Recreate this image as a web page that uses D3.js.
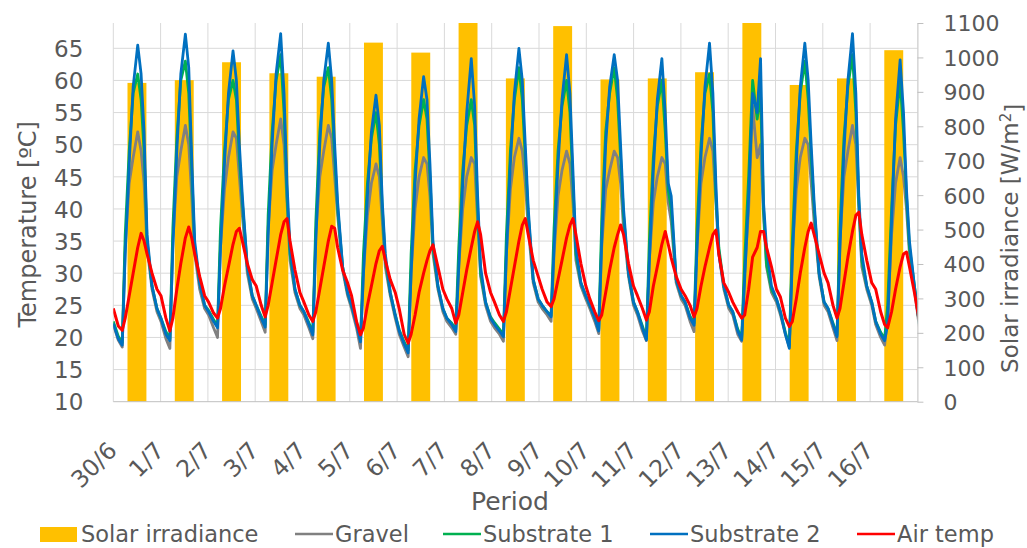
<!DOCTYPE html>
<html>
<head>
<meta charset="utf-8">
<script src="https://cdn.jsdelivr.net/npm/d3@7"></script>
<style>
  html, body { margin: 0; padding: 0; background: #fff; }
  svg text { font-family: "DejaVu Sans", Verdana, sans-serif; fill: #595959; }
</style>
</head>
<body>
<div id="chart"></div>
<script>
// categories (one per day) and daily solar irradiance bars [W/m2]
const dates = ["30/6", "1/7", "2/7", "3/7", "4/7", "5/7", "6/7", "7/7", "8/7",
    "9/7", "10/7", "11/7", "12/7", "13/7", "14/7", "15/7", "16/7"];
const solarIrradiance = [926, 934, 986, 954, 944, 1043, 1014, 1100, 939,
    1091, 936, 939, 957, 1100, 920, 939, 1021];

// hour of day for each reading in the rows below
const sampleHours = [0, 2.5, 4.5, 6, 8, 10, 12.3, 14, 15.5, 17, 19.5, 22];

// temperatures [ºC], one row per day
const gravel = [
    [22, 19.6, 18.5, 34, 44, 48, 52, 49, 44, 34, 27.5, 24],
    [22.5, 19.8, 18.3, 35, 45, 49, 53, 50, 42, 33, 27.5, 24.5],
    [23.5, 21.5, 20, 34, 43, 48, 52, 51, 45, 39, 30, 26],
    [24.5, 22.5, 20.8, 37, 46, 50, 54, 50, 41, 32, 27, 24.5],
    [23.5, 21.5, 19.8, 36, 45, 49, 53, 51, 45, 39, 30.5, 26.5],
    [24.5, 21.5, 18.3, 30, 39, 44, 47, 45, 38, 31, 26.5, 23],
    [20.5, 18.5, 17, 30, 40, 45, 48, 47, 42, 33, 27.5, 24],
    [22.5, 21.5, 20.5, 31, 40, 45, 48, 47, 38, 29.5, 25, 22.5],
    [21.5, 20.5, 19.4, 33, 43, 48, 51, 49, 44, 37, 28.5, 25.5],
    [24.5, 23.5, 22.5, 33, 42, 46, 49, 47, 41, 32, 28, 26],
    [24.5, 22.5, 20.6, 34, 43, 46, 49, 48, 44, 37, 29.5, 25],
    [23.5, 21, 19.5, 32, 41, 45, 48, 47, 41, 38, 28.5, 26],
    [25, 22.5, 20.9, 34, 44, 48, 51, 49, 41, 33, 27.5, 24.5],
    [23.5, 20.5, 19.4, 30, 40, 56, 48, 50, 39, 31, 27, 25.5],
    [23.5, 20.5, 18.5, 33, 43, 48, 51, 50, 44, 38, 29.5, 25],
    [24, 21.5, 19.5, 35, 45, 49, 53, 50, 40, 31, 27.5, 25],
    [22, 20, 18.8, 23, 36, 44, 48, 45, 40, 33, 27.5, 21.5]
];
const substrate1 = [
    [22.5, 20.2, 19.2, 36, 49, 58, 61, 57, 49, 35, 28, 24.5],
    [23, 20.9, 19.8, 37, 51, 60, 63, 58, 46, 34, 28.5, 25],
    [24.2, 22.8, 21.8, 37, 49, 57, 60, 57, 48, 41, 31, 26.5],
    [25, 23.3, 22, 39, 52, 60, 64, 55, 42, 33, 27.5, 25],
    [24, 22.3, 20.8, 38, 52, 59, 62, 57, 48, 40, 31, 27],
    [25, 22.3, 19.6, 33, 44, 51, 55, 50, 40, 32, 27, 23.5],
    [21.2, 19.3, 18, 33, 46, 53, 57, 54, 45, 34, 28, 24.5],
    [23, 22.2, 21.2, 34, 46, 53, 57, 53, 40, 30, 25.5, 23.2],
    [22.3, 21.3, 20.4, 36, 49, 57, 62, 57, 48, 39, 29, 26],
    [25, 24, 23.4, 37, 49, 56, 60, 55, 44, 33, 28.5, 26.5],
    [25, 23.2, 21.3, 38, 52, 58, 62, 57, 48, 39, 30, 25.5],
    [24, 21.8, 19.9, 35, 48, 56, 60, 52, 43, 40, 29, 26.5],
    [25.5, 23.3, 22.2, 37, 50, 58, 61, 55, 42, 34, 28, 25],
    [24, 21.3, 19.9, 32, 45, 60, 54, 58, 40, 31.5, 27.5, 26],
    [24, 20.8, 18.7, 35, 49, 58, 63, 57, 48, 40, 30, 25.5],
    [24.5, 22.2, 20.4, 37, 51, 59, 64, 55, 41, 32, 28, 25.5],
    [22.5, 20.8, 19.8, 25, 40, 53, 60, 52, 42, 34, 28, 22]
];
const substrate2 = [
    [22.2, 19.8, 18.8, 33, 47, 59, 65.5, 61, 52, 36, 28, 24.5],
    [23, 20.5, 19.5, 34, 49, 61, 67.2, 62, 48, 35, 28.5, 25],
    [24, 22.5, 21.5, 34, 47, 58, 64.6, 60, 50, 42, 31, 26.5],
    [25, 23, 21.6, 36, 50, 61, 67.3, 58, 44, 34, 27.5, 25],
    [24, 22, 20.4, 35, 50, 60, 65.8, 60, 50, 41, 31, 27],
    [25, 22, 19.3, 30, 42, 52, 57.7, 53, 41, 33, 27, 23.5],
    [21, 19, 17.6, 30, 44, 54, 60.6, 57, 47, 35, 28, 24.5],
    [23, 22, 20.9, 31, 44, 55, 63.4, 56, 42, 31, 25.5, 23],
    [22, 21, 20.1, 33, 47, 58, 65, 60, 50, 40, 29, 26],
    [25, 24, 23.2, 34, 47, 57, 64, 58, 46, 34, 28.5, 26.5],
    [25, 23, 21, 35, 50, 59, 64, 60, 50, 40, 30, 25.5],
    [24, 21.5, 19.6, 32, 46, 57, 63.4, 55, 44, 42, 29, 26.5],
    [25.5, 23, 21.9, 34, 48, 59, 65.8, 58, 44, 33, 28, 25],
    [24, 21, 19.6, 29, 42, 58, 55, 63.4, 41, 34, 28, 26],
    [24, 20.5, 18.3, 32, 47, 59, 65.8, 60, 50, 41, 30, 25.5],
    [24.5, 22, 20.1, 34, 49, 60, 67.3, 58, 42, 33, 28, 25.5],
    [22.5, 20.5, 19.5, 22, 38, 54, 63.2, 55, 43, 35, 28, 22]
];
const airTemp = [
    [24.5, 21.8, 21.1, 23, 26.5, 30, 34, 36.2, 35, 33, 30, 27.5],
    [26.5, 23, 21, 23, 27.5, 31.5, 35.5, 37.2, 35.5, 33, 29.5, 26.5],
    [25.5, 23.8, 23, 24.5, 28, 31, 34.5, 36.5, 37, 35, 31.5, 29],
    [28, 25, 23.2, 25, 28.5, 32, 36, 38, 38.5, 35, 30.5, 27],
    [25.5, 23.5, 22.5, 24, 27.5, 31, 35, 37.3, 37, 34, 30.5, 28.5],
    [26.5, 22.5, 20.4, 21.5, 25, 28, 31.5, 33.5, 34.2, 32, 29, 27],
    [24.5, 20.5, 19.1, 20.5, 23.5, 27, 30, 32, 33.5, 34.4, 31, 27.5],
    [26, 24.5, 22.2, 23.5, 27, 30.5, 34, 36.5, 38, 36, 30, 27],
    [25.5, 23.5, 22.5, 24, 27.5, 31, 35, 37.5, 38.5, 36, 32, 29.5],
    [27.5, 25.5, 24.8, 26, 29, 32, 35.5, 37.5, 38.5, 36, 31.5, 28],
    [26, 24, 22.6, 23.5, 27, 30.5, 34, 36, 37.5, 36, 31.5, 28],
    [26.5, 24.5, 22.7, 24, 28, 31, 34.5, 36.5, 34.5, 32.4, 29.5, 27.5],
    [26.5, 25, 23.2, 24.5, 28, 31, 34, 36, 36.7, 33, 28.5, 27],
    [25.5, 24, 23, 23.5, 27.5, 32.5, 34, 36.5, 36.5, 34, 31, 27.5],
    [26.3, 23, 21.7, 22.5, 26, 30, 34, 36.5, 37.8, 36, 33, 30],
    [28.5, 25, 23, 24.5, 28.5, 32.5, 36.5, 39, 39.5, 36, 32, 28.5],
    [27.5, 24, 22, 21.5, 24, 27.5, 31, 33, 33.3, 31, 27, 22.5]
];
const recordedHours = 16 * 24 + 21; // log stops on 16/7 around 21:00

// axis ticks and legend
const tempTicks = [10, 15, 20, 25, 30, 35, 40, 45, 50, 55, 60, 65];
const irrTicks = [0, 100, 200, 300, 400, 500, 600, 700, 800, 900, 1000, 1100];
const seriesNames = ["Gravel", "Substrate 1", "Substrate 2", "Air temp"];
const seriesColors = ["#808080", "#00B050", "#0070C0", "#FF0000"];

const W = 1027, H = 548;
const plot = { left: 113.3, right: 917.4, top: 23, bottom: 401.7 };

const svg = d3.select("#chart").append("svg")
    .attr("width", W).attr("height", H);

const xBand = d3.scaleBand().domain(dates)
    .range([plot.left, plot.right]).paddingInner(0.6).paddingOuter(0.3);
const xTime = d3.scaleLinear().domain([0, recordedHours]).range([plot.left, plot.right]);
const yTemp = d3.scaleLinear().domain([10, 68.94]).range([plot.bottom, plot.top]);
const yIrr = d3.scaleLinear().domain([0, 1100]).range([plot.bottom, plot.top]);

svg.append("clipPath").attr("id", "plot-clip").append("rect")
    .attr("x", plot.left).attr("y", plot.top)
    .attr("width", plot.right - plot.left).attr("height", plot.bottom - plot.top);

// gridlines
const step = xBand.step();
const grid = svg.append("g").attr("stroke", "#D9D9D9").attr("stroke-width", 1);
grid.selectAll("line.h").data(tempTicks.slice(1)).join("line")
    .attr("x1", plot.left).attr("x2", plot.right)
    .attr("y1", d => yTemp(d)).attr("y2", d => yTemp(d));
grid.selectAll("line.v").data(d3.range(dates.length)).join("line")
    .attr("x1", i => plot.left + i * step).attr("x2", i => plot.left + i * step)
    .attr("y1", plot.top).attr("y2", plot.bottom);

// bars
svg.append("g").attr("clip-path", "url(#plot-clip)")
    .selectAll("rect").data(solarIrradiance).join("rect")
    .attr("x", (d, i) => xBand(dates[i]))
    .attr("width", xBand.bandwidth())
    .attr("y", d => yIrr(d))
    .attr("height", d => plot.bottom - yIrr(d))
    .attr("fill", "#FFC000");

// lines
const toPoints = rows => rows.flatMap((row, i) =>
    row.map((v, j) => ({ t: i * 24 + sampleHours[j], v })));
const line = d3.line().x(d => xTime(d.t)).y(d => yTemp(d.v));
const lineG = svg.append("g").attr("clip-path", "url(#plot-clip)");
[gravel, substrate1, substrate2, airTemp].forEach((rows, k) => {
    lineG.append("path")
        .datum(toPoints(rows))
        .attr("fill", "none")
        .attr("stroke", seriesColors[k])
        .attr("stroke-width", k === 3 ? 3 : 2.8)
        .attr("stroke-linejoin", "round")
        .attr("d", line);
});

// axes
const axisColor = "#BFBFBF";
svg.append("line").attr("x1", plot.left).attr("x2", plot.right)
    .attr("y1", plot.bottom).attr("y2", plot.bottom).attr("stroke", axisColor);

const rightAxis = svg.append("g")
    .attr("transform", `translate(${plot.right},0)`)
    .call(d3.axisRight(yIrr).tickValues(irrTicks).tickFormat(d3.format("d"))
        .tickSize(6).tickPadding(20).tickSizeOuter(0));
rightAxis.select(".domain").attr("stroke", axisColor);
rightAxis.selectAll(".tick line").attr("stroke", axisColor);
rightAxis.selectAll("text").style("font-size", "22px").attr("fill", "#595959")
    .attr("dy", "0.36em");

const leftAxis = svg.append("g")
    .attr("transform", `translate(${plot.left},0)`)
    .call(d3.axisLeft(yTemp).tickValues(tempTicks).tickSize(0).tickPadding(30));
leftAxis.select(".domain").remove();
leftAxis.selectAll("text").style("font-size", "23px").attr("fill", "#595959")
    .attr("dy", "0.36em");

// category labels
svg.append("g").selectAll("text").data(dates).join("text")
    .attr("transform", (d, i) => `translate(${plot.left + i * step + 5},452) rotate(-45)`)
    .attr("text-anchor", "end")
    .style("font-size", "23.5px")
    .text(d => d);

// axis titles
svg.append("text")
    .attr("transform", `translate(36,${(plot.top + plot.bottom) / 2 + 12}) rotate(-90)`)
    .attr("text-anchor", "middle").style("font-size", "24px")
    .text("Temperature [ºC]");

const rt = svg.append("text")
    .attr("transform", `translate(1018,${(plot.top + plot.bottom) / 2 + 26}) rotate(-90)`)
    .attr("text-anchor", "middle").style("font-size", "23px");
rt.append("tspan").text("Solar irradiance [W/m");
rt.append("tspan").attr("dy", "-0.45em").style("font-size", "15px").text("2");
rt.append("tspan").attr("dy", "0.45em").text("]");

svg.append("text").attr("x", 510).attr("y", 510)
    .attr("text-anchor", "middle").style("font-size", "25px").text("Period");

// legend
const legY = 534;
const leg = svg.append("g");
leg.append("rect").attr("x", 40).attr("y", legY - 7).attr("width", 37).attr("height", 15)
    .attr("fill", "#FFC000");
leg.append("text").attr("x", 81).attr("y", legY).attr("dy", "0.36em")
    .style("font-size", "22.5px").text("Solar irradiance");
const legX = [295, 443, 650, 857];
seriesNames.forEach((name, k) => {
    leg.append("line").attr("x1", legX[k]).attr("x2", legX[k] + 38)
        .attr("y1", legY).attr("y2", legY)
        .attr("stroke", seriesColors[k]).attr("stroke-width", 2.5);
    leg.append("text").attr("x", legX[k] + 40).attr("y", legY).attr("dy", "0.36em")
        .style("font-size", "22.5px").text(name);
});
</script>
</body>
</html>
